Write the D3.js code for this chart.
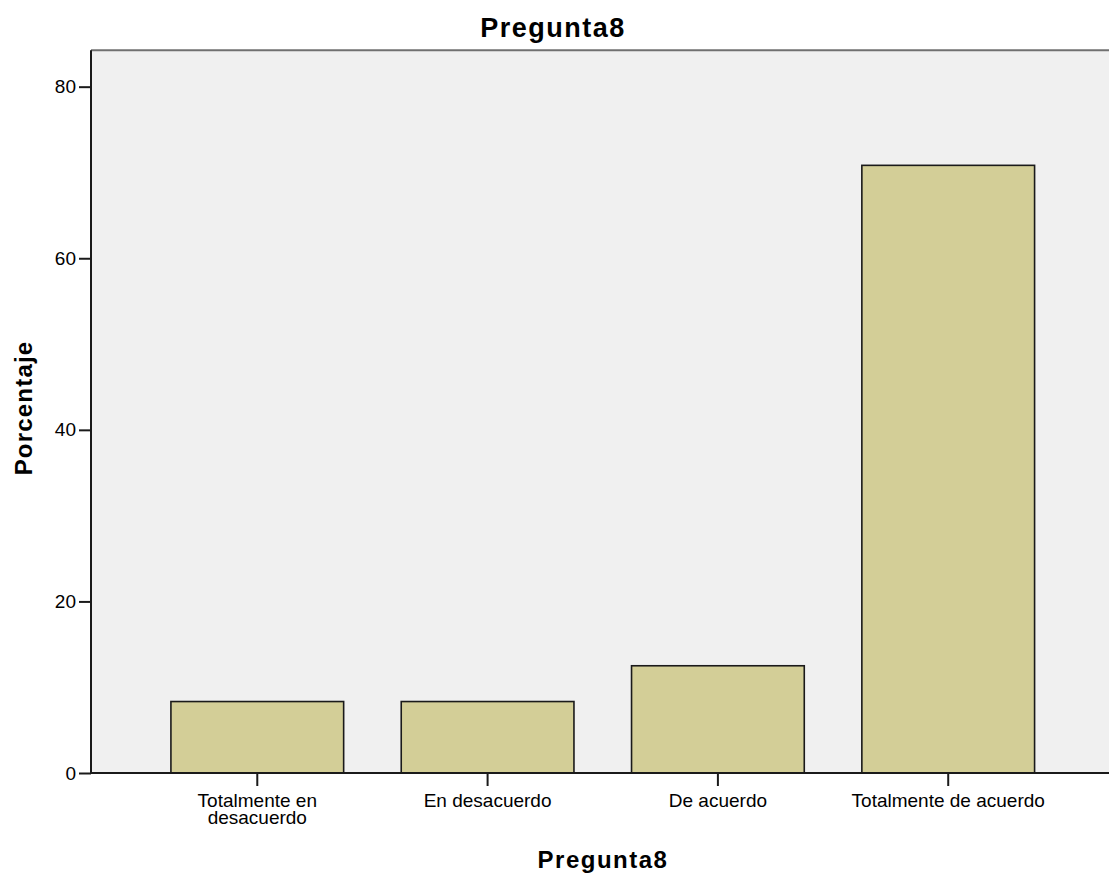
<!DOCTYPE html>
<html>
<head>
<meta charset="utf-8">
<script src="https://cdn.jsdelivr.net/npm/d3@7"></script>
<style>
  html, body { margin: 0; padding: 0; background: #fff; }
  svg { display: block; }
  text { font-family: "Liberation Sans", Arial, sans-serif; fill: #000; }
</style>
</head>
<body>
<script>
const categories = [["Totalmente en", "desacuerdo"], ["En desacuerdo"], ["De acuerdo"], ["Totalmente de acuerdo"]];
const percentages = [8.33, 8.33, 12.5, 70.83];
const yTicks = [0, 20, 40, 60, 80];
const chartTitle = "Pregunta8";
const xTitle = "Pregunta8";
const yTitle = "Porcentaje";

const W = 1109, H = 874;
const plotL = 91, plotR = 1114.5, plotT = 50.3, plotB = 773;

const svg = d3.select("body").append("svg").attr("width", W).attr("height", H);

const keys = categories.map((c, i) => i);
const x = d3.scaleBand().domain(keys).range([plotL, plotR]).paddingInner(0.25).paddingOuter(0.347);
const y = d3.scaleLinear().domain([0, 84.24]).range([plotB, plotT]);

// plot background
svg.append("rect").attr("x", plotL).attr("y", plotT).attr("width", plotR - plotL).attr("height", plotB - plotT)
  .attr("fill", "#f0f0f0");
// top border
svg.append("line").attr("x1", plotL).attr("x2", plotR).attr("y1", plotT).attr("y2", plotT)
  .attr("stroke", "#707070").attr("stroke-width", 2);

// bars
svg.append("g").selectAll("rect").data(percentages).join("rect")
  .attr("x", (d, i) => x(i))
  .attr("y", d => y(d))
  .attr("width", x.bandwidth())
  .attr("height", d => y(0) - y(d))
  .attr("fill", "#d3ce97")
  .attr("stroke", "#1a1a1a")
  .attr("stroke-width", 1.6);

// y axis
const yAxis = svg.append("g").attr("transform", `translate(${plotL},0)`)
  .call(d3.axisLeft(y).tickValues(yTicks).tickSize(12).tickPadding(3).tickFormat(d3.format("d")));
yAxis.select(".domain").attr("stroke", "#1a1a1a").attr("stroke-width", 2).attr("d", `M0,${plotT}V${plotB}`);
yAxis.selectAll(".tick line").attr("stroke", "#1a1a1a").attr("stroke-width", 2);
yAxis.selectAll(".tick text").attr("font-size", 19).attr("font-family", "Liberation Sans, Arial, sans-serif").attr("fill", "#111");

// x axis
const xAxis = svg.append("g").attr("transform", `translate(0,${plotB})`)
  .call(d3.axisBottom(x).tickSize(13).tickFormat(""));
xAxis.select(".domain").attr("stroke", "#1a1a1a").attr("stroke-width", 2).attr("d", `M${plotL},0H${W + 10}`);
xAxis.selectAll(".tick line").attr("stroke", "#1a1a1a").attr("stroke-width", 2);
xAxis.selectAll(".tick").each(function (d) {
  const t = d3.select(this).append("text").attr("text-anchor", "middle")
    .attr("font-size", 19).attr("fill", "#111");
  categories[d].forEach((line, j) => {
    t.append("tspan").attr("x", 0).attr("y", 34 + j * 17).text(line);
  });
});

// titles
svg.append("text").attr("x", 553).attr("y", 37).attr("text-anchor", "middle")
  .attr("font-size", 27).attr("font-weight", "bold").attr("letter-spacing", 1.5).text(chartTitle);
svg.append("text").attr("x", 603).attr("y", 868).attr("text-anchor", "middle")
  .attr("font-size", 24).attr("font-weight", "bold").attr("letter-spacing", 1.5).text(xTitle);
svg.append("text").attr("transform", `translate(32,408) rotate(-90)`)
  .attr("text-anchor", "middle").attr("font-size", 24).attr("font-weight", "bold").attr("letter-spacing", 1.2).text(yTitle);
</script>
</body>
</html>
